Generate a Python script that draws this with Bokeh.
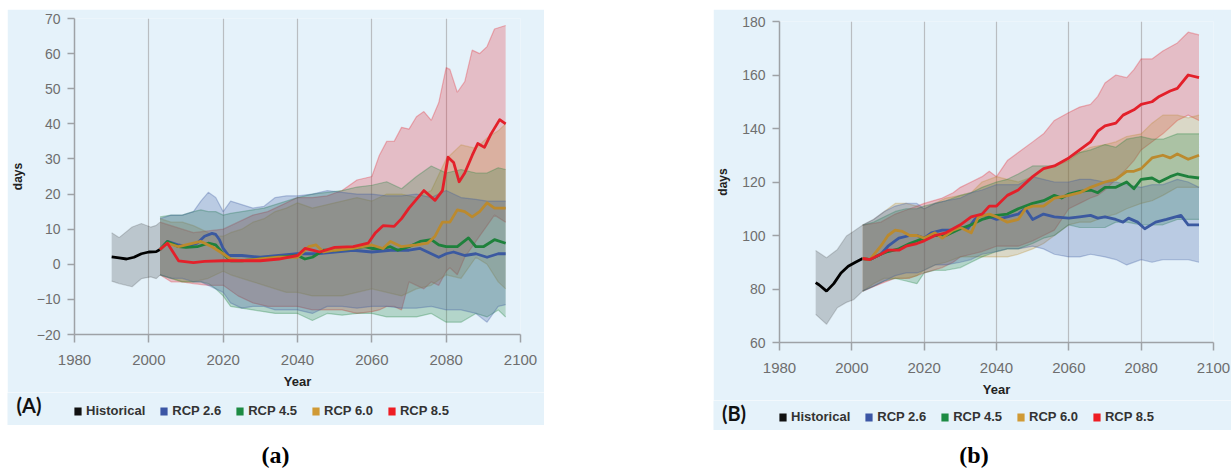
from bokeh.plotting import figure
from bokeh.models import Range1d, FixedTicker, Legend, LegendItem, Label, Div, Spacer
from bokeh.layouts import row, column
from bokeh.embed import file_html
from bokeh.resources import INLINE

# ---------------- shared ----------------
SERIES = ["Historical", "RCP 2.6", "RCP 4.5", "RCP 6.0", "RCP 8.5"]
LINE_COLORS = ["#000000", "#3b59a0", "#1e813c", "#bb8a2e", "#e3202a"]
LEGEND_COLORS = ["#111111", "#3b56a5", "#1d8b43", "#d09a35", "#ee1d23"]
X_TICKS = [1980, 2000, 2020, 2040, 2060, 2080, 2100]
Y_TICKS_A = [-20, -10, 0, 10, 20, 30, 40, 50, 60, 70]
Y_TICK_LABELS_A = ["\u221220", "\u221210", "0", "10", "20", "30", "40", "50", "60", "70"]
Y_TICKS_B = [60, 80, 100, 120, 140, 160, 180]
Y_TICK_LABELS_B = ["60", "80", "100", "120", "140", "160", "180"]

# ---------------- panel A ----------------
HIST_A_YEARS = [1990, 1992, 1994, 1996, 1998, 2000, 2002, 2003]
HIST_A = [2.1, 1.8, 1.5, 2.0, 3.0, 3.5, 3.6, 4.2]
HIST_A_BAND_YEARS = [1990, 1992, 1995.5, 1998, 2000.5, 2002, 2003]
HIST_A_UPPER = [9.0, 7.6, 10.6, 11.6, 10.6, 11.1, 12.0]
HIST_A_LOWER = [-4.8, -5.5, -6.4, -4.1, -3.6, -4.1, -3.1]

R26_A_YEARS = [2003, 2005, 2008, 2010, 2013, 2015, 2017, 2018, 2019, 2020, 2021.5, 2025, 2030, 2035, 2040,
               2045, 2050, 2055, 2060, 2065, 2070, 2073, 2075, 2078, 2080, 2082, 2085, 2088, 2091, 2094, 2096]
R26_A = [4.2, 6.5, 5.5, 5, 6, 8, 8.8, 8.5, 7, 4.5, 2.5, 2.5, 2, 2.5, 3,
         3, 3.5, 4, 3.5, 4, 4, 4.5, 3.5, 2, 3, 3.5, 2.5, 3, 2, 3, 3]
R45_A_YEARS = [2003, 2005, 2008, 2010, 2013, 2016, 2018, 2020, 2022, 2025, 2030, 2035, 2040, 2042, 2044, 2047,
               2050, 2055, 2058, 2060, 2063, 2065, 2067, 2070, 2073, 2076, 2078, 2080, 2083, 2086, 2088, 2090,
               2093, 2096]
R45_A = [4.2, 6.5, 5, 4.8, 5, 6, 5.5, 3, 1, 1, 1.5, 2, 2.5, 1.5, 2, 4,
         4, 4.5, 5, 4.5, 4.5, 5, 4, 5, 6.5, 7, 5.5, 5, 5, 7.5, 5, 5,
         7, 6]
R60_A_YEARS = [2003, 2005, 2008, 2010, 2014, 2017, 2020, 2022, 2025, 2030, 2035, 2040, 2043, 2045, 2047, 2050,
               2055, 2060, 2063, 2065, 2068, 2072, 2075, 2077, 2079, 2081, 2083, 2085, 2087, 2089, 2091, 2093,
               2096]
R60_A = [4.2, 6, 5, 5.5, 6.5, 5, 3, 1.5, 1, 1.5, 2, 2, 5, 5.5, 3.5, 4,
         4.5, 5.5, 4.5, 6.5, 5, 5.5, 6, 8, 12, 12, 15.5, 15, 13.5, 15, 17.5, 16,
         16]
R85_A_YEARS = [2003, 2005, 2006.5, 2008, 2012, 2015, 2020, 2025, 2030, 2035, 2040, 2042, 2044, 2046, 2050,
               2055, 2059, 2061, 2063, 2066, 2068, 2070, 2072, 2074, 2077, 2079, 2080.5, 2082, 2083.5, 2085,
               2087, 2088.5, 2090.3, 2092, 2094.4, 2096]
R85_A = [4.2, 6, 3.5, 1, 0.5, 0.8, 1, 1, 1, 1.5, 2.5, 4.5, 4, 3.5, 4.8,
         5, 6, 9, 11, 10.8, 13, 16, 18.5, 21, 18.2, 21, 30.5, 29, 23.5, 26,
         31, 34.4, 33.3, 37, 41.2, 40]

BAND_A_YEARS = [2003, 2006, 2009, 2012, 2014, 2016, 2018, 2020, 2022, 2025, 2028, 2031, 2034, 2037, 2040,
                2044, 2048, 2052, 2056, 2060, 2064, 2068, 2072, 2076, 2080, 2084, 2088, 2091, 2094, 2096]
R26_A_UPPER = [13, 14, 14, 15, 18, 20.5, 19, 15, 18, 17, 16, 16.5, 19, 19.5, 19.5,
               20, 21, 20.5, 20, 20, 19.5, 19.5, 20, 19, 21, 19, 18.5, 18, 18, 18]
R26_A_LOWER = [-3, -4, -4, -5, -5, -6, -7, -8, -11, -12.5, -12, -12, -13, -13, -13,
               -14, -12, -12, -12.5, -12, -12, -12.5, -12.5, -12, -13, -13, -14, -16.5, -12, -11.5]
R45_A_UPPER = [13.5, 14, 14, 15, 15.5, 15, 15, 14, 14.5, 15, 15.5, 16, 17, 18, 19,
               20, 20.5, 21, 22, 22.5, 23.5, 21.5, 25, 28, 26, 27, 26, 26, 27.5, 27]
R45_A_LOWER = [-3, -4, -5, -5, -5, -5.5, -7, -9, -12, -12.5, -13, -13.5, -14, -14, -14,
               -16, -14, -14.5, -14, -14, -15, -15, -15, -14, -16.5, -16.5, -14, -15, -13, -15]
R60_A_UPPER = [13, 12, 12, 11, 10, 9, 8, 8, 9, 10, 12, 13, 15, 16, 17.5,
               16, 17, 18, 19, 18, 20, 20, 19, 21, 30, 34, 33, 36, 38, 40]
R60_A_LOWER = [-3, -4, -5, -5, -4.5, -4, -3, -2, -3, -4, -5, -6, -7, -8, -8,
               -9, -9, -9, -8, -7, -8, -9, -7, -6, -3, -4, 2, 0, -5, -7]
R85_A_BAND_YEARS = [2003, 2006, 2009, 2012, 2016, 2020, 2024, 2028, 2032, 2036, 2040, 2044, 2048, 2052, 2056,
                    2060, 2062, 2064, 2066, 2068, 2070, 2072, 2074, 2076, 2078, 2080, 2081, 2083, 2085, 2087,
                    2089, 2091, 2093, 2096]
R85_A_UPPER = [12, 11, 10, 9, 9.5, 10, 12, 14, 15, 17, 19, 19, 19.5, 21, 24,
               25, 31, 35, 35, 39, 38.5, 42, 43.5, 41, 46, 56, 55.5, 49, 52, 61,
               60, 62, 67, 68]
R85_A_LOWER = [-3, -5, -5, -5.5, -6, -6, -9, -11, -12, -12, -12, -13, -13, -13, -14,
               -13.5, -13, -12, -12, -13, -5, -6, -7, -5, -6, -2, -1, -3, 2, 5,
               8, 11, 14, 12]

# ---------------- panel B ----------------
HIST_B_YEARS = [1990, 1991, 1993, 1995, 1997, 1999, 2001, 2003]
HIST_B = [82.4, 81.5, 79.2, 82, 86, 88.5, 90, 91.4]
HIST_B_BAND_YEARS = [1990, 1993, 1996, 1998.5, 2000.5, 2003]
HIST_B_UPPER = [94.4, 91.7, 94.8, 99.8, 101.6, 103.9]
HIST_B_LOWER = [70.5, 66.8, 73, 75, 76, 79.2]

R26_B_YEARS = [2003, 2005, 2008, 2010, 2013, 2016, 2018, 2020, 2022, 2025, 2028, 2030, 2032, 2034, 2036,
               2038, 2040, 2043, 2046, 2048, 2050, 2053, 2056, 2060, 2063, 2066, 2068, 2070, 2073, 2075,
               2076.5, 2079, 2081, 2084, 2087, 2091, 2093, 2096]
R26_B = [91.4, 91, 93, 96, 99, 100, 100, 99, 101, 102, 102, 103, 102.5, 106, 108,
         107, 106, 107, 108, 110, 106, 108, 107, 106.5, 107, 107.5, 106.5, 107, 106, 105,
         106.5, 105, 102.5, 105, 106, 107.5, 104, 104]
R45_B_YEARS = [2003, 2005, 2008, 2010, 2013, 2016, 2020, 2023, 2026, 2030, 2033, 2036, 2040, 2043, 2046,
               2050, 2053, 2056, 2058, 2060, 2063, 2066, 2068, 2070, 2073, 2076, 2078, 2080, 2083, 2085,
               2088, 2090, 2093, 2096]
R45_B = [91.4, 91, 93, 94, 95, 97, 99, 100, 100, 102.5, 104, 106, 107.5, 108, 110,
         112, 113, 115, 114, 115.5, 116.5, 117, 116, 118, 118, 120, 117.5, 121, 121.5, 120,
         122, 123, 122, 121.5]
R60_B_YEARS = [2003, 2005, 2008, 2010, 2012, 2014, 2016, 2018, 2020, 2023, 2025, 2028, 2030, 2033, 2035,
               2038, 2040, 2043, 2046, 2048, 2050, 2053, 2056, 2060, 2063, 2066, 2070, 2073, 2076, 2078,
               2080, 2083, 2086, 2088, 2090, 2093, 2096]
R60_B = [91.4, 91, 96, 100, 102, 101.5, 100, 100, 99, 101, 99, 102, 103, 101, 107,
         108, 107, 105, 106, 110, 111, 111, 114, 115, 116, 118, 120, 121, 124, 124,
         125, 129, 130, 129, 130.5, 128.5, 130]
R85_B_YEARS = [2003, 2005, 2008, 2010, 2013, 2015, 2018, 2020, 2023, 2026, 2030, 2033, 2036, 2038, 2040,
               2043, 2046, 2050, 2053, 2056, 2060, 2063, 2066, 2068, 2070, 2073, 2075, 2078, 2080, 2083,
               2085, 2088, 2090, 2093, 2096]
R85_B = [91.4, 91, 93, 94.5, 94.5, 96, 97, 98, 100, 101, 104, 107, 108, 111, 111,
         115, 117, 122, 125, 126, 129, 132, 135, 139, 141, 142, 145, 147, 149, 150,
         152, 154, 155, 160, 159]

BAND_B_YEARS = [2003, 2006, 2009, 2012, 2015, 2018, 2020, 2023, 2026, 2030, 2033, 2036, 2040, 2043, 2046,
                2050, 2053, 2056, 2060, 2063, 2066, 2070, 2073, 2076, 2080, 2083, 2086, 2090, 2093, 2096]
R26_B_UPPER = [103.9, 106, 109, 111, 112, 112, 110, 112, 113, 114, 116, 117, 119, 119, 119,
               122, 121, 120, 120, 121, 121, 120, 120, 119, 118, 119, 119, 121, 120, 118]
R26_B_LOWER = [79.2, 81, 83, 85, 86, 86, 87, 89, 89, 90, 91, 93, 94, 95, 95,
               96, 95, 93, 92, 92, 93, 92, 91, 89, 91, 90, 91, 91, 91, 90]
R45_B_UPPER = [103.9, 105, 107, 109, 110, 110, 111, 112, 113, 115, 116, 118, 120, 121, 123,
               126, 126, 126, 129, 131, 132, 134, 133, 136, 137, 136, 136, 138, 138, 138]
R45_B_LOWER = [79.2, 81, 83, 84, 83, 82, 86, 87, 87, 88, 90, 92, 94, 95, 95,
               97, 99, 100, 104, 103, 103, 103, 105, 105, 104, 104, 104, 106, 106, 106]
R60_B_UPPER = [103.9, 106, 109, 112, 112, 111, 110, 112, 114, 115, 116, 120, 122, 121, 120,
               122, 125, 126, 128, 131, 133, 134, 135, 137, 138, 142, 145, 145, 144, 145]
R60_B_LOWER = [79.2, 82, 84, 84, 84, 85, 87, 89, 90, 92, 92, 92, 92, 92, 93,
               95, 97, 100, 104, 105, 105, 107, 108, 110, 112, 113, 115, 118, 118, 118]
R85_B_BAND_YEARS = [2003, 2008, 2012, 2016, 2020, 2025, 2028, 2030, 2033, 2036, 2038, 2040, 2043, 2046, 2050,
                    2053, 2056, 2060, 2063, 2066, 2068, 2070, 2073, 2076, 2078, 2080, 2083, 2086, 2090, 2093,
                    2096]
R85_B_UPPER = [103.9, 105, 108, 110, 112, 114, 116, 118, 120, 122, 124, 122, 128, 131, 135,
               138, 143, 146, 148, 149, 152, 157, 160, 159, 162, 166, 166, 169, 172, 176,
               175]
R85_B_LOWER = [79.2, 82, 84, 84, 86, 88, 90, 92, 93, 94, 95, 96, 96, 96, 98,
               100, 102, 110, 112, 114, 115, 117, 121, 125, 128, 132, 135, 138, 143, 145,
               143]

BG = "#e5f2fa"
TICK_FONT = "Liberation Sans"
NAN = float("nan")


def build_panel(yrange, yticks, ylabels, hist, bands, lines, fw, fh, ml, mr, mt, mb):
    p = figure(frame_width=fw, frame_height=fh,
               x_range=Range1d(1980, 2100), y_range=Range1d(*yrange),
               output_backend="svg", toolbar_location=None,
               min_border_left=ml, min_border_right=mr, min_border_top=mt, min_border_bottom=mb,
               background_fill_color=BG, border_fill_color=BG, outline_line_color=None,
               frame_align=False)

    # uncertainty bands (drawn red first so that blue ends on top)
    hy, hl, hu, hline_y, hline = hist
    p.varea(x=hy, y1=hl, y2=hu, fill_color="#000000", fill_alpha=0.18)
    p.line(x=hy, y=hu, line_color="#000000", line_alpha=0.15, line_width=1.2)
    p.line(x=hy, y=hl, line_color="#000000", line_alpha=0.15, line_width=1.2)
    for (by, bl, bu), col in reversed(list(zip(bands, LINE_COLORS[1:]))):
        p.varea(x=by, y1=bl, y2=bu, fill_color=col, fill_alpha=0.25)
        p.line(x=by, y=bu, line_color=col, line_alpha=0.3, line_width=1.2)
        p.line(x=by, y=bl, line_color=col, line_alpha=0.3, line_width=1.2)

    # central lines
    p.line(x=hline_y, y=hline, line_color=LINE_COLORS[0], line_width=2.8)
    for (ly, lv), col in zip(lines, LINE_COLORS[1:]):
        p.line(x=ly, y=lv, line_color=col, line_width=2.8, line_join="round")

    # axes
    p.xaxis.ticker = FixedTicker(ticks=X_TICKS)
    p.yaxis.ticker = FixedTicker(ticks=yticks)
    p.yaxis.major_label_overrides = {t: s for t, s in zip(yticks, ylabels)}
    for ax in (p.xaxis, p.yaxis):
        ax.axis_line_color = "#9ea2a6"
        ax.axis_line_width = 1.5
        ax.major_tick_line_color = "#9ea2a6"
        ax.major_tick_line_width = 1.5
        ax.major_tick_in = 0
        ax.minor_tick_line_color = None
        ax.major_label_text_color = "#6e6e6e"
        ax.major_label_text_font = TICK_FONT
        ax.axis_label_text_font = TICK_FONT
        ax.axis_label_text_font_style = "bold"
        ax.axis_label_text_color = "#222222"
    p.xaxis.major_tick_out = 8
    p.yaxis.major_tick_out = 7
    p.xaxis.major_label_text_font_size = "15px"
    p.yaxis.major_label_text_font_size = "14px"
    p.xaxis.major_label_standoff = 12
    p.yaxis.major_label_standoff = 7
    p.xaxis.axis_label = "Year"
    p.yaxis.axis_label = "days"
    p.xaxis.axis_label_text_font_size = "13px"
    p.yaxis.axis_label_text_font_size = "12px"
    p.xaxis.axis_label_standoff = 6
    p.yaxis.axis_label_standoff = 9

    p.xgrid.ticker = FixedTicker(ticks=X_TICKS)
    p.xgrid.grid_line_color = "#b9bdc1"
    p.xgrid.grid_line_width = 1.2
    p.ygrid.grid_line_color = None
    return p


def build_legend_strip(letter, width, height, leg_x, leg_y, let_x, let_y):
    s = figure(width=width, height=height, x_range=Range1d(0, width), y_range=Range1d(0, height),
               output_backend="svg", toolbar_location=None, x_axis_type=None, y_axis_type=None,
               min_border=0, background_fill_color=BG, border_fill_color=BG, outline_line_color=None,
               frame_align=False)
    s.xgrid.grid_line_color = None
    s.ygrid.grid_line_color = None
    items = []
    for name, col in zip(SERIES, LEGEND_COLORS):
        # legend swatch proxy: a single undrawn (NaN) quad carrying the series colour
        r = s.quad(left=[NAN], right=[NAN], top=[NAN], bottom=[NAN], fill_color=col, line_color=None)
        items.append(LegendItem(label=name, renderers=[r]))
    legend = Legend(items=items, location=(leg_x, leg_y), orientation="horizontal",
                    glyph_width=9, glyph_height=10, label_standoff=4, spacing=14,
                    padding=0, margin=0, border_line_color=None, background_fill_alpha=0,
                    label_text_font=TICK_FONT, label_text_font_style="bold",
                    label_text_font_size="13px", label_text_color="#333333")
    s.add_layout(legend)
    s.add_layout(Label(x=let_x, y=let_y, text=letter, text_align="center", text_baseline="middle",
                       text_font="Lato", text_font_style="bold", text_font_size="20px",
                       text_color="#111111"))
    return s


figA = build_panel(
    (-20, 70), Y_TICKS_A, Y_TICK_LABELS_A,
    (HIST_A_BAND_YEARS, HIST_A_LOWER, HIST_A_UPPER, HIST_A_YEARS, HIST_A),
    [(BAND_A_YEARS, R26_A_LOWER, R26_A_UPPER), (BAND_A_YEARS, R45_A_LOWER, R45_A_UPPER),
     (BAND_A_YEARS, R60_A_LOWER, R60_A_UPPER), (R85_A_BAND_YEARS, R85_A_LOWER, R85_A_UPPER)],
    [(R26_A_YEARS, R26_A), (R45_A_YEARS, R45_A), (R60_A_YEARS, R60_A), (R85_A_YEARS, R85_A)],
    fw=446, fh=316, ml=67, mr=24, mt=9, mb=58)
legA = build_legend_strip("(A)", 537, 33, 66, 7, 21.5, 20.5)

figB = build_panel(
    (60, 180), Y_TICKS_B, Y_TICK_LABELS_B,
    (HIST_B_BAND_YEARS, HIST_B_LOWER, HIST_B_UPPER, HIST_B_YEARS, HIST_B),
    [(BAND_B_YEARS, R26_B_LOWER, R26_B_UPPER), (BAND_B_YEARS, R45_B_LOWER, R45_B_UPPER),
     (BAND_B_YEARS, R60_B_LOWER, R60_B_UPPER), (R85_B_BAND_YEARS, R85_B_LOWER, R85_B_UPPER)],
    [(R26_B_YEARS, R26_B), (R45_B_YEARS, R45_B), (R60_B_YEARS, R60_B), (R85_B_YEARS, R85_B)],
    fw=434, fh=321, ml=64, mr=20, mt=12, mb=58)
legB = build_legend_strip("(B)", 518, 30, 65, 6, 20.5, 17.5)

CAP_STYLE = "font-family:'Liberation Serif',serif;font-weight:bold;font-size:24px;line-height:24px;"
capA = Div(text='<div style="%s position:relative; top:18px; width:537px; text-align:center;">(a)</div>' % CAP_STYLE,
           width=537, height=40, margin=0)
capB = Div(text='<div style="%s position:relative; top:13px; left:2px; width:518px; text-align:center;">(b)</div>' % CAP_STYLE,
           width=518, height=35, margin=0)

layout = row(Spacer(width=7, height=10),
             column(Spacer(width=10, height=9), figA, legA, capA),
             Spacer(width=169, height=10),
             column(Spacer(width=10, height=9), figB, legB, capB))

open("out.html", "w").write(file_html(layout, INLINE))
